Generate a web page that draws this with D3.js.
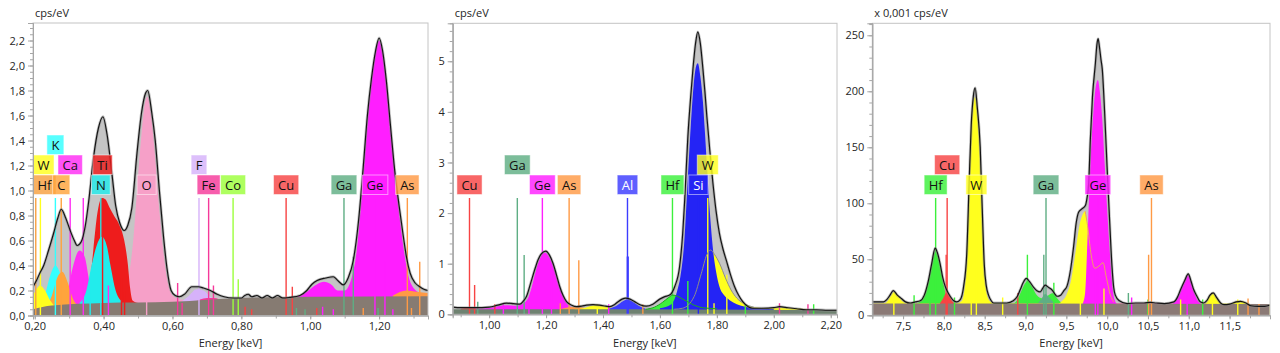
<!DOCTYPE html>
<html>
<head>
<meta charset="utf-8">
<script src="https://cdn.jsdelivr.net/npm/d3@7"></script>
<style>
  body { margin: 0; background: #fff; }
  svg { display: block; font-family: "Open Sans", "Noto Sans", sans-serif; }
</style>
</head>
<body>
<svg id="chart" width="1280" height="353"></svg>
<script>
// ---------- panel 1 : 0.2 - 1.34 keV ----------
const p1XTicks = [0.2, 0.4, 0.6, 0.8, 1.0, 1.2];
const p1YTicks = [0, 0.2, 0.4, 0.6, 0.8, 1.0, 1.2, 1.4, 1.6, 1.8, 2.0, 2.2];
const p1Spectrum = [[0.195,0.23],[0.205,0.28],[0.215,0.34],[0.226,0.40],[0.24,0.52],[0.255,0.66],[0.267,0.78],[0.277,0.85],[0.29,0.78],[0.303,0.68],[0.315,0.60],[0.323,0.56],[0.335,0.59],[0.347,0.72],[0.357,0.92],[0.371,1.27],[0.385,1.50],[0.398,1.59],[0.41,1.45],[0.424,1.14],[0.435,0.88],[0.447,0.74],[0.46,0.68],[0.47,0.72],[0.482,0.86],[0.497,1.3],[0.51,1.62],[0.522,1.78],[0.528,1.80],[0.54,1.62],[0.55,1.40],[0.562,1.0],[0.574,0.63],[0.584,0.38],[0.596,0.2],[0.608,0.16],[0.62,0.15],[0.635,0.17],[0.656,0.23],[0.675,0.23],[0.69,0.22],[0.71,0.2],[0.73,0.17],[0.75,0.15],[0.777,0.14],[0.80,0.14],[0.81,0.16],[0.82,0.17],[0.83,0.15],[0.845,0.16],[0.86,0.14],[0.875,0.16],[0.89,0.14],[0.905,0.16],[0.92,0.14],[0.94,0.145],[0.97,0.16],[0.99,0.2],[1.005,0.25],[1.02,0.28],[1.045,0.3],[1.067,0.31],[1.08,0.28],[1.096,0.245],[1.11,0.3],[1.125,0.44],[1.14,0.75],[1.154,1.19],[1.166,1.6],[1.178,1.9],[1.19,2.12],[1.2,2.22],[1.21,2.12],[1.221,1.88],[1.233,1.52],[1.245,1.17],[1.258,0.88],[1.27,0.64],[1.28,0.46],[1.29,0.34],[1.305,0.26],[1.318,0.23],[1.33,0.21],[1.342,0.2]];
const p1Background = [[0.195,0.05],[0.25,0.08],[0.4,0.1],[0.6,0.11],[0.8,0.14],[1.0,0.15],[1.342,0.155]];
const p1O = [[0.43,0.15],[0.46,0.22],[0.475,0.35],[0.487,0.63],[0.497,1.0],[0.51,1.45],[0.52,1.7],[0.527,1.75],[0.537,1.62],[0.548,1.32],[0.56,0.9],[0.572,0.55],[0.584,0.3],[0.6,0.16],[0.62,0.13],[0.65,0.12]];
const p1Ti = [[0.345,0.1],[0.36,0.25],[0.37,0.52],[0.382,0.82],[0.395,0.94],[0.405,0.93],[0.418,0.86],[0.432,0.79],[0.447,0.72],[0.46,0.6],[0.47,0.42],[0.477,0.22],[0.484,0.12],[0.5,0.1]];
const p1Ca = [[0.28,0.08],[0.295,0.18],[0.31,0.38],[0.33,0.52],[0.345,0.47],[0.36,0.25],[0.375,0.1]];
const p1N = [[0.33,0.1],[0.35,0.2],[0.365,0.4],[0.38,0.56],[0.395,0.63],[0.41,0.55],[0.42,0.4],[0.435,0.2],[0.45,0.12]];
const p1K = [[0.21,0.08],[0.23,0.17],[0.245,0.32],[0.26,0.4],[0.275,0.33],[0.29,0.2],[0.31,0.1]];
const p1C = [[0.23,0.06],[0.25,0.16],[0.265,0.3],[0.28,0.35],[0.295,0.27],[0.31,0.14],[0.33,0.07]];
const p1Hf = [[0.195,0.1],[0.21,0.12],[0.23,0.08],[0.25,0.05]];
const p1W = [[0.195,0.16],[0.205,0.21],[0.215,0.24],[0.23,0.2],[0.245,0.12],[0.26,0.07]];
const p1F = [[0.62,0.1],[0.645,0.15],[0.67,0.21],[0.69,0.2],[0.71,0.15],[0.74,0.11]];
const p1Fe = [[0.66,0.1],[0.70,0.14],[0.72,0.14],[0.75,0.11]];
const p1Ge = [[0.96,0.15],[0.99,0.19],[1.02,0.25],[1.04,0.27],[1.06,0.25],[1.08,0.2],[1.1,0.2],[1.12,0.3],[1.135,0.52],[1.15,0.98],[1.165,1.5],[1.18,1.92],[1.19,2.12],[1.2,2.2],[1.21,2.1],[1.222,1.84],[1.235,1.45],[1.248,1.08],[1.26,0.78],[1.272,0.52],[1.285,0.32],[1.3,0.22],[1.32,0.18],[1.342,0.17]];
const p1As = [[1.24,0.16],[1.28,0.2],[1.31,0.19],[1.342,0.18]];
const p1Labels = [["Hf",0.203],["W",0.2165],["K",0.26],["C",0.277],["Ca",0.303],["N",0.392],["Ti",0.397],["O",0.525],["F",0.677],["Fe",0.705],["Co",0.776],["Cu",0.930],["Ga",1.098],["Ge",1.188],["As",1.282]];
const p1Lines = [["Ca",0.341,0.94],["N",0.361,0.2],["Ca",0.414,0.24],["Ti",0.452,0.3],["Ti",0.461,0.19],["Fe",0.615,0.26],["Fe",0.628,0.1],["Fe",0.719,0.24],["Co",0.791,0.29],["Cu",0.811,0.07],["Cu",0.83,0.05],["Cu",0.948,0.23],["Ga",0.96,0.06],["Ga",0.985,0.05],["Cu",1.019,0.06],["Ge",1.036,0.07],["Ge",1.067,0.05],["Ga",1.125,0.47],["As",1.154,0.06],["Ga",1.197,0.06],["Ge",1.217,0.43],["Ge",1.24,0.05],["As",1.294,0.06],["As",1.318,0.43]];

// ---------- panel 2 : 0.87 - 2.22 keV ----------
const p2XTicks = [1.0, 1.2, 1.4, 1.6, 1.8, 2.0, 2.2];
const p2YTicks = [0, 1, 2, 3, 4, 5];
const p2Spectrum = [[0.872,0.14],[0.9,0.13],[0.95,0.13],[1.0,0.14],[1.03,0.18],[1.061,0.22],[1.085,0.21],[1.108,0.2],[1.12,0.26],[1.131,0.35],[1.145,0.6],[1.16,0.88],[1.172,1.08],[1.184,1.2],[1.199,1.25],[1.212,1.17],[1.225,1.0],[1.237,0.77],[1.248,0.55],[1.26,0.37],[1.272,0.25],[1.29,0.18],[1.307,0.15],[1.325,0.16],[1.342,0.18],[1.365,0.19],[1.388,0.18],[1.41,0.16],[1.424,0.15],[1.44,0.19],[1.453,0.25],[1.467,0.3],[1.48,0.32],[1.495,0.3],[1.511,0.25],[1.53,0.19],[1.552,0.16],[1.575,0.2],[1.599,0.3],[1.617,0.35],[1.634,0.38],[1.652,0.55],[1.669,0.94],[1.68,1.6],[1.687,2.26],[1.698,3.5],[1.708,4.3],[1.716,4.85],[1.725,5.35],[1.733,5.58],[1.742,5.35],[1.751,4.85],[1.758,4.4],[1.765,3.9],[1.775,3.25],[1.786,2.6],[1.797,2.05],[1.809,1.6],[1.821,1.3],[1.833,1.07],[1.847,0.8],[1.862,0.55],[1.876,0.38],[1.891,0.25],[1.91,0.15],[1.926,0.12],[1.96,0.12],[2.0,0.13],[2.02,0.15],[2.05,0.13],[2.08,0.11],[2.114,0.09],[2.15,0.09],[2.19,0.08],[2.222,0.08]];
const p2Background = [[0.872,0.1],[1.5,0.1],[2.222,0.08]];
const p2Cu = [[0.9,0.11],[0.93,0.13],[0.96,0.11]];
const p2Ge = [[0.95,0.11],[1.0,0.13],[1.03,0.16],[1.06,0.18],[1.09,0.17],[1.115,0.2],[1.135,0.3],[1.15,0.55],[1.165,0.88],[1.18,1.12],[1.196,1.22],[1.21,1.14],[1.225,0.95],[1.24,0.68],[1.255,0.42],[1.27,0.24],[1.29,0.14],[1.31,0.11]];
const p2As = [[1.25,0.1],[1.28,0.14],[1.31,0.15],[1.34,0.12]];
const p2Al = [[1.42,0.11],[1.45,0.18],[1.47,0.26],[1.487,0.29],[1.505,0.25],[1.525,0.17],[1.55,0.11]];
const p2W = [[1.30,0.1],[1.33,0.12],[1.36,0.17],[1.385,0.19],[1.41,0.16],[1.44,0.12],[1.47,0.1],[1.65,0.1],[1.68,0.12],[1.72,0.35],[1.745,0.8],[1.765,1.18],[1.778,1.27],[1.792,1.18],[1.81,1.0],[1.83,0.72],[1.85,0.48],[1.87,0.32],[1.9,0.2],[1.93,0.14],[1.98,0.12],[2.03,0.13],[2.08,0.12],[2.12,0.1]];
const p2Hf = [[1.55,0.1],[1.58,0.14],[1.61,0.24],[1.63,0.33],[1.645,0.38],[1.66,0.36],[1.68,0.3],[1.7,0.24],[1.72,0.18],[1.75,0.13],[1.8,0.11]];
const p2Si = [[1.6,0.12],[1.64,0.2],[1.66,0.45],[1.672,0.75],[1.685,1.4],[1.698,2.7],[1.708,3.7],[1.718,4.5],[1.727,4.9],[1.733,4.96],[1.742,4.7],[1.751,4.2],[1.758,3.6],[1.765,2.95],[1.775,2.05],[1.786,1.3],[1.797,0.85],[1.809,0.55],[1.825,0.38],[1.845,0.28],[1.87,0.2],[1.9,0.15],[1.94,0.12],[2.0,0.1]];
const p2Labels = [["Cu",0.931],["Ga",1.099],["Ge",1.187],["As",1.281],["Al",1.486],["Hf",1.644],["Si",1.735],["W",1.768]];
const p2Lines = [["Cu",0.949,0.58],["Ga",0.96,0.25],["Cu",1.02,0.2],["Ge",1.05,0.22],["Ga",1.123,1.17],["Ge",1.14,0.22],["Ge",1.219,1.0],["As",1.25,0.22],["As",1.315,1.07],["W",1.38,0.2],["Ge",1.42,0.2],["Al",1.487,1.14],["As",1.54,0.2],["Hf",1.698,0.66],["W",1.79,0.22],["W",1.835,0.78],["Hf",1.9,0.2],["Fe",2.02,0.22],["Fe",2.12,0.2],["Hf",2.14,0.2]];

// ---------- panel 3 : 7.1 - 12 keV ----------
const p3XTicks = [7.5, 8.0, 8.5, 9.0, 9.5, 10.0, 10.5, 11.0, 11.5];
const p3YTicks = [0, 50, 100, 150, 200, 250];
const p3Spectrum = [[7.12,12],[7.2,12],[7.26,12],[7.3,14],[7.34,18],[7.38,22],[7.43,18],[7.48,15],[7.53,12],[7.586,11],[7.65,12],[7.71,13],[7.76,18],[7.81,31],[7.85,46],[7.893,60],[7.92,56],[7.954,46],[7.985,34],[8.015,26],[8.045,21],[8.077,17],[8.12,13],[8.16,12],[8.2,14],[8.24,25],[8.28,55],[8.31,120],[8.335,170],[8.36,195],[8.383,203],[8.41,185],[8.445,150],[8.47,95],[8.495,45],[8.52,26],[8.547,18],[8.58,13],[8.61,11],[8.7,11],[8.77,11],[8.85,13],[8.9,17],[8.936,23],[8.97,29],[9.01,33],[9.05,30],[9.1,25],[9.14,22],[9.18,21],[9.21,24],[9.24,27],[9.28,25],[9.32,23],[9.36,19],[9.386,17],[9.43,18],[9.47,22],[9.508,26],[9.55,40],[9.59,62],[9.62,82],[9.65,92],[9.69,95],[9.733,98],[9.754,105],[9.774,118],[9.794,157],[9.82,195],[9.856,225],[9.875,242],[9.889,247],[9.905,240],[9.925,228],[9.94,220],[9.97,180],[9.999,133],[10.03,85],[10.06,43],[10.08,25],[10.1,18],[10.15,13],[10.245,10.5],[10.35,11],[10.45,11],[10.53,11.5],[10.6,11],[10.7,10.5],[10.817,12],[10.86,16],[10.9,23],[10.95,31],[10.993,37],[11.03,30],[11.06,23],[11.1,17],[11.14,12],[11.185,11],[11.22,13],[11.26,18],[11.3,20],[11.34,16],[11.39,11],[11.43,9.5],[11.5,10],[11.58,12],[11.635,12.5],[11.7,11],[11.76,8.5],[11.85,8],[11.93,8],[11.99,9]];
const p3Background = [[7.12,10.5],[9.0,10.5],[11.99,10]];
const p3Hf = [[7.65,10.5],[7.7,12],[7.76,18],[7.81,30],[7.85,45],[7.895,57],[7.93,52],[7.96,42],[7.99,30],[8.02,20],[8.06,14],[8.1,11],[8.2,10.5],[8.85,10.5],[8.9,14],[8.95,22],[9.0,29],[9.03,31],[9.07,27],[9.12,20],[9.17,16],[9.22,15],[9.28,18],[9.34,20],[9.39,15],[9.45,11],[9.5,10.5],[10.45,10.5],[10.5,12],[10.55,11.5],[10.6,10.5]];
const p3Ga = [[9.15,10.5],[9.19,14],[9.24,19],[9.29,16],[9.34,12],[9.38,10.5]];
const p3W = [[7.12,10.5],[7.28,11],[7.34,16],[7.39,21],[7.44,17],[7.5,12],[7.56,10.5],[8.15,10.5],[8.22,13],[8.27,38],[8.3,100],[8.33,160],[8.36,188],[8.38,195],[8.41,180],[8.44,145],[8.47,90],[8.495,42],[8.52,22],[8.55,14],[8.6,11],[8.65,10.5],[9.4,10.5],[9.45,13],[9.5,18],[9.56,32],[9.62,60],[9.66,80],[9.7,90],[9.73,93],[9.76,80],[9.8,56],[9.85,42],[9.9,44],[9.95,47],[9.99,34],[10.04,18],[10.08,12],[10.12,10.5],[11.2,10.5],[11.25,16],[11.29,20],[11.34,15],[11.4,10.5],[11.52,10.5],[11.6,13],[11.68,12],[11.75,10],[11.99,10]];
const p3Cu = [[7.95,10.5],[7.99,15],[8.03,20],[8.06,19],[8.1,13],[8.14,10.5]];
const p3Ge = [[9.7,10.5],[9.73,20],[9.76,70],[9.79,128],[9.83,180],[9.86,204],[9.886,210],[9.91,200],[9.94,175],[9.97,135],[10.0,95],[10.03,60],[10.06,30],[10.09,14],[10.12,10.5],[10.8,10.5],[10.85,14],[10.9,22],[10.95,32],[10.99,36],[11.03,30],[11.07,20],[11.11,13],[11.15,10.5]];
const p3Labels = [["Hf",7.899],["Cu",8.04],["W",8.398],["Ga",9.251],["Ge",9.886],["As",10.543]];
const p3Lines = [["W",7.387,14],["Hf",7.635,18],["Hf",7.83,16],["Cu",8.028,54],["Hf",8.13,16],["W",8.335,20],["W",8.72,16],["Cu",8.905,20],["Hf",9.023,54],["Ga",9.224,54],["Hf",9.347,29],["W",9.672,51],["Ge",9.855,45],["W",9.961,24],["Ga",10.26,20],["Ge",10.3,16],["Hf",10.5,14],["As",10.508,54],["W",10.9,14],["Ge",10.98,18],["Hf",11.17,14],["W",11.29,13],["W",11.6,14],["As",11.726,15],["As",11.86,10]];

// ---------- colours ----------
const elementColor = {
  W: "#ffff1e", K: "#33ffff", Ca: "#ff2cf4", C: "#ffa43c", N: "#22ecec", Ti: "#ee1c1c",
  O: "#f6a0c8", F: "#d6b2fa", Fe: "#f5399a", Co: "#9cff3c", Cu: "#f74444", Ga: "#5fae84",
  Ge: "#ff1eff", As: "#ff9a45", Al: "#3c3cff", Si: "#2424f5", Hf: "#3cf03c"
};
const whiteText = ["Al", "Si"];

const loc = d3.formatLocale({decimal: ",", thousands: ".", grouping: [3], currency: ["", ""]});

const panels = [
  {
    left: 33, right: 428, top: 23, bottom: 315.5,
    xDomain: [0.195, 1.342], yDomain: [0, 2.34],
    xTicks: p1XTicks, yTicks: p1YTicks, xMinor: 0.1, yMinor: 0.05,
    xFmt: loc.format(".2f"), yFmt: loc.format(".1f"),
    unit: "cps/eV", spectrum: p1Spectrum, band: p1Background, bandColor: "#867b72",
    fills: [["O", p1O], ["Ti", p1Ti], ["Ca", p1Ca], ["N", p1N], ["K", p1K], ["C", p1C], ["Hf", p1Hf], ["W", p1W], ["F", p1F], ["Fe", p1Fe], ["Ge", p1Ge], ["As", p1As]],
    outlines: [],
    labels: p1Labels, lines: p1Lines,
    rows: {W: 1, K: 2, Ca: 1, Ti: 1, F: 1},
    colors: {Hf: "#f7a040"}
  },
  {
    left: 452.7, right: 837, top: 23.3, bottom: 314.3,
    xDomain: [0.872, 2.222], yDomain: [0, 5.75],
    xTicks: p2XTicks, yTicks: p2YTicks, xMinor: 0.1, yMinor: 0.2,
    xFmt: loc.format(".2f"), yFmt: loc.format("d"),
    unit: "cps/eV", spectrum: p2Spectrum, band: p2Background, bandColor: "#6f8271",
    fills: [["Cu", p2Cu], ["Ge", p2Ge], ["As", p2As], ["W", p2W], ["Al", p2Al], ["Hf", p2Hf], ["Si", p2Si]],
    outlines: [["W", p2W.filter(d => d[0] > 1.6 && d[0] < 1.96), "#8f8f86"], ["Hf", p2Hf, "#1fa81f"]],
    labels: p2Labels, lines: p2Lines,
    rows: {Ga: 1, W: 1},
    colors: {}
  },
  {
    left: 872.3, right: 1270, top: 23.3, bottom: 315.3,
    xDomain: [7.123, 11.995], yDomain: [0, 260.7],
    xTicks: p3XTicks, yTicks: p3YTicks, xMinor: 0.25, yMinor: 10,
    xFmt: loc.format(".1f"), yFmt: loc.format("d"),
    unit: "x 0,001 cps/eV", spectrum: p3Spectrum, band: p3Background, bandColor: "#8b7a76",
    fills: [["Hf", p3Hf], ["Ga", p3Ga], ["W", p3W], ["Cu", p3Cu], ["Ge", p3Ge]],
    outlines: [["W", p3W.filter(d => d[0] > 9.72 && d[0] < 10.09), "#f0a060"]],
    labels: p3Labels, lines: p3Lines,
    rows: {Cu: 1},
    colors: {}
  }
];

const svg = d3.select("#chart");

panels.forEach((p, i) => {
  const col = el => p.colors[el] || elementColor[el];
  const x = d3.scaleLinear().domain(p.xDomain).range([p.left, p.right]);
  const y = d3.scaleLinear().domain(p.yDomain).range([p.bottom, p.top]);
  const g = svg.append("g");

  g.append("clipPath").attr("id", "clip" + i)
    .append("rect").attr("x", p.left).attr("y", p.top)
    .attr("width", p.right - p.left).attr("height", p.bottom - p.top);

  const plot = g.append("g").attr("clip-path", `url(#clip${i})`);

  const area = d3.area().x(d => x(d[0])).y0(y(0)).y1(d => y(d[1])).curve(d3.curveMonotoneX);
  const line = d3.line().x(d => x(d[0])).y(d => y(d[1])).curve(d3.curveMonotoneX);

  // measured spectrum, grey
  plot.append("path").attr("d", area(p.spectrum)).attr("fill", "#c5c5c5");

  // element fits
  p.fills.forEach(([el, data]) => {
    plot.append("path").attr("d", area(data)).attr("fill", col(el));
  });

  // background
  plot.append("path").attr("d", area(p.band)).attr("fill", p.bandColor);

  // secondary lines
  p.lines.forEach(([el, e, v]) => {
    plot.append("line")
      .attr("x1", x(e)).attr("x2", x(e))
      .attr("y1", y(0)).attr("y2", y(v))
      .attr("stroke", col(el))
      .attr("stroke-width", el === "Al" ? 2.2 : 1.4);
  });

  // main marker lines
  p.labels.forEach(([el, e]) => {
    plot.append("line")
      .attr("x1", x(e)).attr("x2", x(e))
      .attr("y1", y(0)).attr("y2", 198)
      .attr("stroke", col(el)).attr("stroke-width", 1.4);
  });

  // component outlines
  p.outlines.forEach(([el, data, c]) => {
    plot.append("path").attr("d", line(data))
      .attr("fill", "none").attr("stroke", c).attr("stroke-width", 1);
  });

  // spectrum line
  plot.append("path").attr("d", line(p.spectrum))
    .attr("fill", "none").attr("stroke", "#8a8a8a").attr("stroke-width", 2.8).attr("stroke-opacity", 0.5);
  plot.append("path").attr("d", line(p.spectrum))
    .attr("fill", "none").attr("stroke", "#151515").attr("stroke-width", 1.2);

  // element labels
  p.labels.forEach(([el, e]) => {
    const row = p.rows[el] || 0;
    const top = 175 - row * 20;
    const lg = g.append("g");
    const rect = lg.append("rect").attr("fill", col(el)).attr("fill-opacity", 0.82)
      .attr("stroke", "#ffffff").attr("stroke-opacity", 0.5).attr("stroke-width", 1);
    const t = lg.append("text").text(el)
      .attr("font-size", 13).attr("text-anchor", "middle")
      .attr("fill", whiteText.includes(el) ? "#fff" : "#111");
    const w = t.node().getComputedTextLength() + 9;
    let bx = x(e) - w / 2;
    bx = Math.max(p.left, Math.min(p.right - w, bx));
    rect.attr("x", bx).attr("y", top).attr("width", w).attr("height", 19.5);
    t.attr("x", bx + w / 2).attr("y", top + 14.5);
  });

  // frame
  g.append("rect").attr("x", p.left).attr("y", p.top)
    .attr("width", p.right - p.left).attr("height", p.bottom - p.top)
    .attr("fill", "none").attr("stroke", "#c4c4c4");

  // axes
  const xMinorTicks = d3.range(Math.ceil(p.xDomain[0] / p.xMinor) * p.xMinor, p.xDomain[1], p.xMinor);
  const yMinorTicks = d3.range(0, p.yDomain[1], p.yMinor);

  const styleAxis = sel => {
    sel.select(".domain").attr("stroke", "#a6a6a6");
    sel.selectAll(".tick line").attr("stroke", "#a6a6a6");
    sel.selectAll("text").attr("fill", "#262626").attr("font-size", 11)
      .attr("font-family", '"Open Sans", sans-serif');
  };

  g.append("g").attr("transform", `translate(0,${p.bottom})`)
    .call(d3.axisBottom(x).tickValues(xMinorTicks).tickSize(3).tickFormat(""))
    .call(styleAxis);
  g.append("g").attr("transform", `translate(0,${p.bottom})`)
    .call(d3.axisBottom(x).tickValues(p.xTicks).tickSize(4).tickPadding(3).tickFormat(p.xFmt))
    .call(styleAxis);

  g.append("g").attr("transform", `translate(${p.left},0)`)
    .call(d3.axisLeft(y).tickValues(yMinorTicks).tickSize(3).tickFormat(""))
    .call(styleAxis);
  g.append("g").attr("transform", `translate(${p.left},0)`)
    .call(d3.axisLeft(y).tickValues(p.yTicks).tickSize(5).tickPadding(3).tickFormat(p.yFmt))
    .call(styleAxis);

  g.append("text").text(p.unit)
    .attr("x", p.left + 2).attr("y", 17)
    .attr("font-size", 11).attr("fill", "#262626");

  g.append("text").text("Energy [keV]")
    .attr("x", (p.left + p.right) / 2).attr("y", 347)
    .attr("text-anchor", "middle").attr("font-size", 11).attr("fill", "#262626");
});
</script>
</body>
</html>
